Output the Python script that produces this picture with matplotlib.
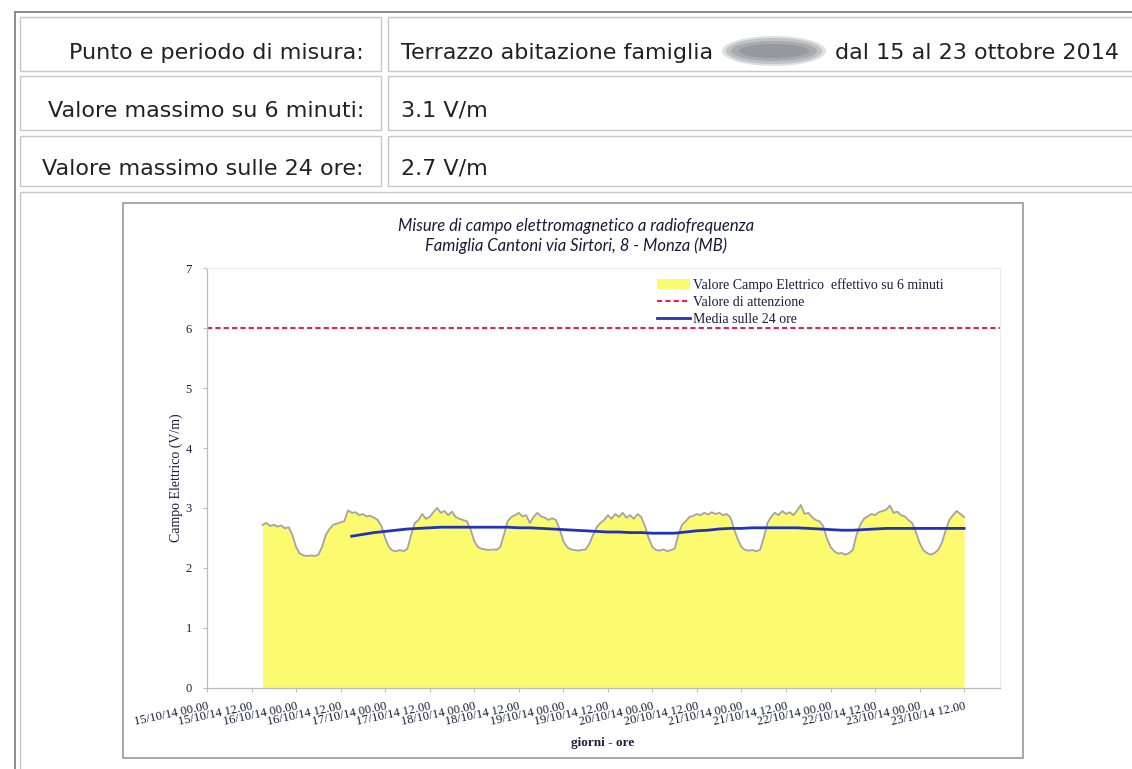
import matplotlib
matplotlib.use('Agg')
import matplotlib.pyplot as plt
import pandas as pd
from matplotlib.patches import Rectangle, Ellipse

# Table rows at the top of the page
row_labels = ['Punto e periodo di misura:', 'Valore massimo su 6 minuti:', 'Valore massimo sulle 24 ore:']
row_values = ['Terrazzo abitazione famiglia', '3.1 V/m', '2.7 V/m']
period_text = 'dal 15 al 23 ottobre 2014'

# Chart texts
chart_title = 'Misure di campo elettromagnetico a radiofrequenza\nFamiglia Cantoni via Sirtori, 8 - Monza (MB)'
legend_labels = ['Valore Campo Elettrico  effettivo su 6 minuti', 'Valore di attenzione', 'Media sulle 24 ore']

# Hourly readings of the 6-minute field (V/m), from 15/10/14 15:00 to 23/10/14 12:00
start_6min = '2014-10-15 15:00'
campo_6min = [
    # 15/10 15:00 - 23:00
    2.72, 2.75, 2.70, 2.72, 2.69, 2.71, 2.66, 2.68, 2.55,
    # 16/10
    2.35, 2.24, 2.21, 2.20, 2.21, 2.20, 2.22, 2.35, 2.55, 2.65, 2.72, 2.74,
    2.76, 2.78, 2.96, 2.92, 2.93, 2.88, 2.90, 2.86, 2.87, 2.84, 2.80, 2.70,
    # 17/10
    2.50, 2.35, 2.29, 2.28, 2.30, 2.28, 2.32, 2.55, 2.75, 2.80, 2.90, 2.82,
    2.85, 2.93, 3.00, 2.92, 2.95, 2.88, 2.94, 2.85, 2.82, 2.80, 2.78, 2.65,
    # 18/10
    2.45, 2.35, 2.32, 2.31, 2.30, 2.31, 2.30, 2.35, 2.55, 2.78, 2.85, 2.88,
    2.92, 2.86, 2.88, 2.75, 2.85, 2.92, 2.86, 2.84, 2.80, 2.83, 2.80, 2.65,
    # 19/10
    2.45, 2.35, 2.31, 2.30, 2.29, 2.30, 2.31, 2.40, 2.55, 2.68, 2.75, 2.80,
    2.88, 2.82, 2.90, 2.85, 2.92, 2.84, 2.88, 2.82, 2.90, 2.85, 2.70, 2.50,
    # 20/10
    2.35, 2.30, 2.29, 2.31, 2.28, 2.30, 2.32, 2.55, 2.72, 2.78, 2.85, 2.87,
    2.90, 2.88, 2.92, 2.89, 2.93, 2.90, 2.92, 2.88, 2.90, 2.85, 2.65, 2.48,
    # 21/10
    2.35, 2.30, 2.29, 2.30, 2.28, 2.30, 2.50, 2.75, 2.85, 2.92, 2.88, 2.95,
    2.90, 2.93, 2.88, 2.96, 3.05, 2.90, 2.92, 2.85, 2.80, 2.78, 2.70, 2.50,
    # 22/10
    2.35, 2.28, 2.24, 2.25, 2.22, 2.25, 2.30, 2.55, 2.72, 2.82, 2.86, 2.90,
    2.88, 2.93, 2.95, 2.97, 3.04, 2.92, 2.94, 2.88, 2.86, 2.80, 2.75, 2.60,
    # 23/10 00:00 - 12:00
    2.42, 2.30, 2.25, 2.22, 2.25, 2.30, 2.42, 2.62, 2.80, 2.88, 2.95, 2.90,
    2.85,
]

# 24-hour mean (V/m), every 3 hours from 16/10/14 15:00
start_media = '2014-10-16 15:00'
media_24h = [
    2.53, 2.56, 2.59, 2.61, 2.63, 2.65, 2.66, 2.67, 2.68, 2.68, 2.68, 2.68,
    2.68, 2.68, 2.68, 2.67, 2.67, 2.66, 2.65, 2.64, 2.63, 2.62, 2.61, 2.60,
    2.60, 2.59, 2.59, 2.58, 2.58, 2.58, 2.60, 2.62, 2.63, 2.65, 2.66, 2.66,
    2.67, 2.67, 2.67, 2.67, 2.67, 2.66, 2.65, 2.64, 2.63, 2.63, 2.64, 2.65,
    2.66, 2.66, 2.66, 2.66, 2.66, 2.66, 2.66, 2.66,
]

valore_attenzione = 6

tick_labels = [
    '15/10/14 00.00', '15/10/14 12.00', '16/10/14 00.00', '16/10/14 12.00',
    '17/10/14 00.00', '17/10/14 12.00', '18/10/14 00.00', '18/10/14 12.00',
    '19/10/14 00.00', '19/10/14 12.00', '20/10/14 00.00', '20/10/14 12.00',
    '21/10/14 00.00', '21/10/14 12.00', '22/10/14 00.00', '22/10/14 12.00',
    '23/10/14 00.00', '23/10/14 12.00',
]
y_ticks = [0, 1, 2, 3, 4, 5, 6, 7]

W, H = 1132, 769
fig = plt.figure(figsize=(W / 100, H / 100), dpi=100)
fig.patch.set_facecolor('white')


def fx(x):
    return x / W


def fy(y):
    return 1 - y / H


def box(x0, y0, x1, y1, color='#c8c8c8', lw=1.0):
    fig.add_artist(Rectangle((fx(x0), fy(y1)), fx(x1) - fx(x0), fy(y0) - fy(y1),
                             transform=fig.transFigure, fill=False,
                             edgecolor=color, linewidth=lw))


# Page table borders
box(15, 12, 1140, 775, color='#8c8c8c', lw=1.4)
rows_y = [(17, 71), (76, 130), (136, 186)]
for y0, y1 in rows_y:
    box(20, y0, 381, y1)
    box(388, y0, 1140, y1)
box(20, 192, 1140, 772)

# Table texts
text_color = '#222222'
centers = [53, 111, 169]
for lab, val, cy in zip(row_labels, row_values, centers):
    fig.text(fx(364), fy(cy), lab, ha='right', va='center', fontsize=16,
             family='DejaVu Sans', color=text_color)
    fig.text(fx(401), fy(cy), val, ha='left', va='center', fontsize=16,
             family='DejaVu Sans', color=text_color)
# blurred name (smudge)
for w, h, a in [(104, 30, 0.25), (96, 26, 0.3), (86, 20, 0.35), (70, 14, 0.4)]:
    fig.add_artist(Ellipse((fx(774), fy(51)), w / W, h / H, transform=fig.transFigure,
                           facecolor='#7c8088', edgecolor='none', alpha=a))
fig.text(fx(1119), fy(centers[0]), period_text, ha='right', va='center', fontsize=16,
         family='DejaVu Sans', color=text_color)

# Chart frame
box(123, 203, 1023, 758, color='#9a9a9a', lw=1.2)

ax = fig.add_axes([fx(207), fy(688), fx(1000) - fx(207), fy(268) - fy(688)])

times = pd.date_range(start_6min, periods=len(campo_6min), freq='h')
times_media = pd.date_range(start_media, periods=len(media_24h), freq='3h')
tick_pos = pd.date_range('2014-10-15 00:00', periods=len(tick_labels), freq='12h')

ax.fill_between(times, campo_6min, 0, color='#fcfa6e', linewidth=0,
                label=legend_labels[0])
ax.plot(times, campo_6min, color='#a3a3a3', linewidth=1.3)
ax.axhline(valore_attenzione, color='#e8205a', linestyle=(0, (2.5, 1.5)),
           linewidth=1.5, label=legend_labels[1])
ax.plot(times_media, media_24h, color='#2433b5', linewidth=2.0, label=legend_labels[2])

ax.set_xlim(pd.Timestamp('2014-10-15 00:00'), pd.Timestamp('2014-10-23 21:40'))
ax.set_ylim(0, 7)

serif = 'Liberation Serif'
lab_color = '#1c1c3c'
ax.set_yticks(y_ticks)
ax.set_yticklabels([str(v) for v in y_ticks], family=serif, fontsize=9, color=lab_color)
ax.set_xticks(tick_pos)
ax.set_xticklabels(tick_labels, family=serif, fontsize=9, color=lab_color,
                   rotation=12, ha='right', rotation_mode='anchor')
ax.tick_params(axis='both', length=3, color='#bfbfbf', width=0.8)
ax.tick_params(axis='x', pad=6)
ax.tick_params(axis='y', pad=8)

for s in ['top', 'right']:
    ax.spines[s].set_color('#ececec')
    ax.spines[s].set_linewidth(0.8)
for s in ['left', 'bottom']:
    ax.spines[s].set_color('#bdbdbd')
    ax.spines[s].set_linewidth(0.9)

fig.text(fx(576), fy(236), chart_title, ha='center', va='center', fontsize=12,
         family='Lato', style='italic', color='#1a1a3a', linespacing=1.25)
fig.text(fx(603), fy(743), 'giorni - ore', ha='center', va='center', fontsize=9.5,
         family=serif, weight='bold', color=lab_color)
fig.text(fx(176), fy(478), 'Campo Elettrico (V/m)', ha='center', va='center',
         fontsize=10, family=serif, rotation=90, color=lab_color)

handles, labels = ax.get_legend_handles_labels()
leg = ax.legend(handles, labels, loc='upper left', bbox_to_anchor=(0.553, 1.003),
                frameon=False, prop={'family': serif, 'size': 10},
                handlelength=2.4, handletextpad=0.25, labelspacing=0.3,
                borderaxespad=0.4)
for t in leg.get_texts():
    t.set_color(lab_color)
leg.legend_handles[0].set_edgecolor('#d6d6a0')

fig.savefig('out.png', dpi=100)
